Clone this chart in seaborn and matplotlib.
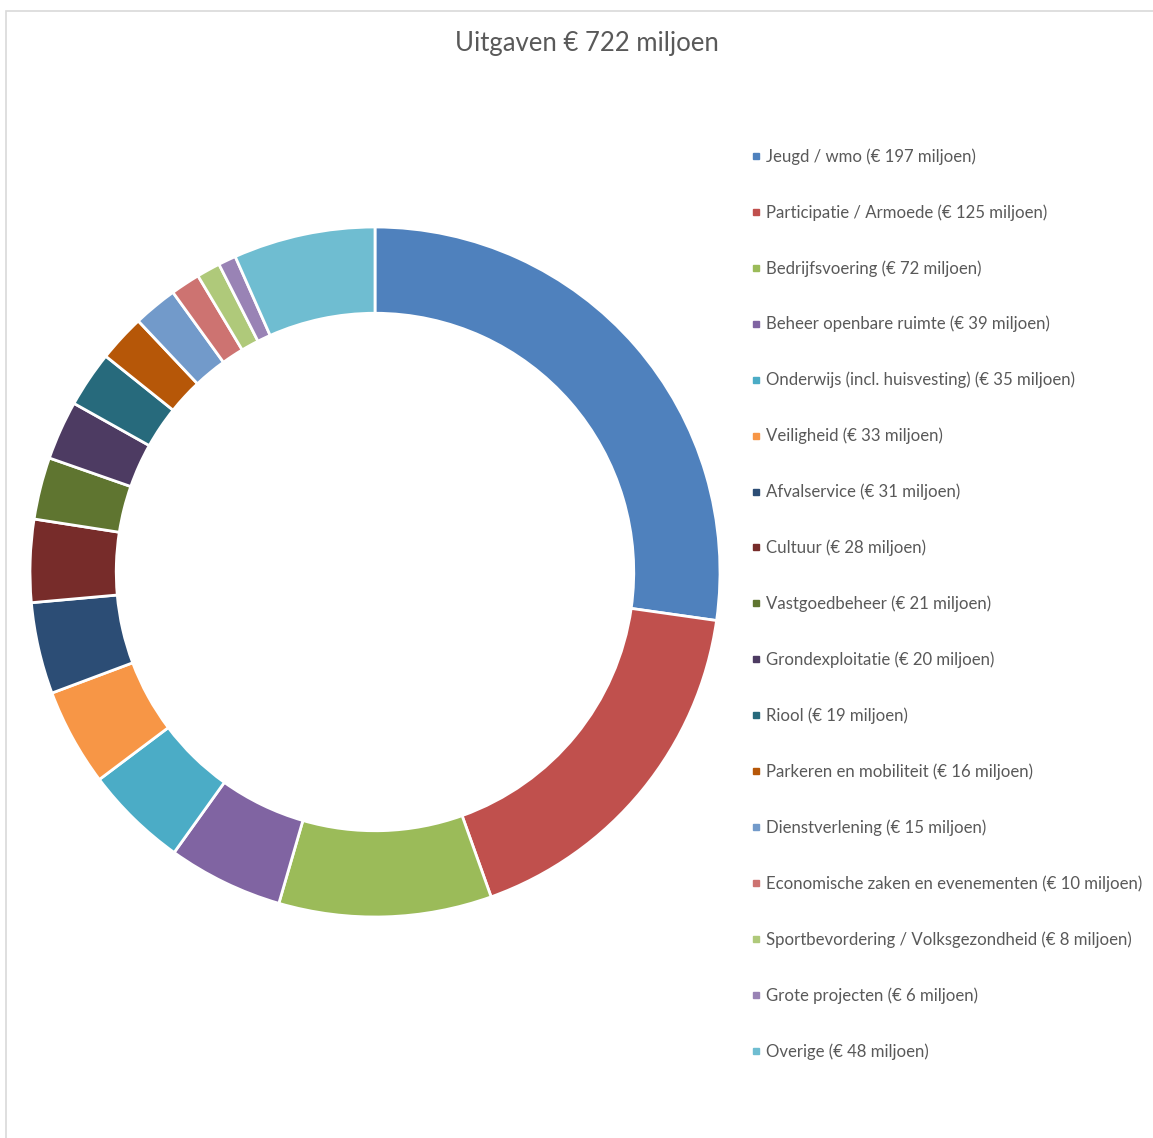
import matplotlib.pyplot as plt
import matplotlib.patches as mpatches
from matplotlib.lines import Line2D
import seaborn as sns

# uitgaven per taakveld (miljoen euro)
labels = ["Jeugd / wmo", "Participatie / Armoede", "Bedrijfsvoering",
          "Beheer openbare ruimte", "Onderwijs (incl. huisvesting)", "Veiligheid",
          "Afvalservice", "Cultuur", "Vastgoedbeheer", "Grondexploitatie", "Riool",
          "Parkeren en mobiliteit", "Dienstverlening",
          "Economische zaken en evenementen",
          "Sportbevordering / Volksgezondheid", "Grote projecten", "Overige"]
values = [197, 125, 72, 39, 35, 33, 31, 28, 21, 20, 19, 16, 15, 10, 8, 6, 48]
colors = ["#4F81BD", "#C0504D", "#9BBB59", "#8064A2", "#4BACC6", "#F79646",
          "#2C4D75", "#772C2A", "#5F7530", "#4D3B62", "#276A7C", "#B65708",
          "#729ACA", "#CD7371", "#AFC97A", "#9983B5", "#6FBDD1"]

sns.set_theme(style="white")
plt.rcParams['font.family'] = ['Lato', 'DejaVu Sans']
palette = sns.color_palette(colors)
grey = "#595959"

W, H = 1153, 1138
fig = plt.figure(figsize=(W / 100, H / 100), dpi=100)

# lichte rand links en boven
fig.patches.append(mpatches.Rectangle((6 / W, -0.1), 1.2, (H - 11) / H + 0.1,
                                      transform=fig.transFigure, fill=False,
                                      edgecolor="#D9D9D9", linewidth=1.2))

ax = fig.add_axes([30 / W, 221 / H, 690 / W, 690 / H])
ax.pie(values, colors=palette, startangle=90, counterclock=False,
       radius=1.0, wedgeprops=dict(width=0.25, edgecolor="white", linewidth=2))
ax.set_xlim(-1, 1)
ax.set_ylim(-1, 1)
ax.set_aspect("equal")
ax.axis("off")

fig.text(587 / W, 1 - 44 / H, "Uitgaven € 722 miljoen", ha="center", va="center",
         fontsize=18.5, color=grey)

handles = [Line2D([], [], marker="s", linestyle="none", markersize=4.5,
                  markerfacecolor=c, markeredgecolor=c) for c in palette]
legend_labels = [f"{l} (€ {v} miljoen)" for l, v in zip(labels, values)]
leg = fig.legend(handles, legend_labels, loc="upper left",
                 bbox_to_anchor=(751 / W, 1 - 148 / H), frameon=False,
                 fontsize=12.1, labelspacing=2.345, handlelength=0.55,
                 handletextpad=0.35, borderaxespad=0, borderpad=0)
for t in leg.get_texts():
    t.set_color(grey)

fig.savefig("out.png", dpi=100)
